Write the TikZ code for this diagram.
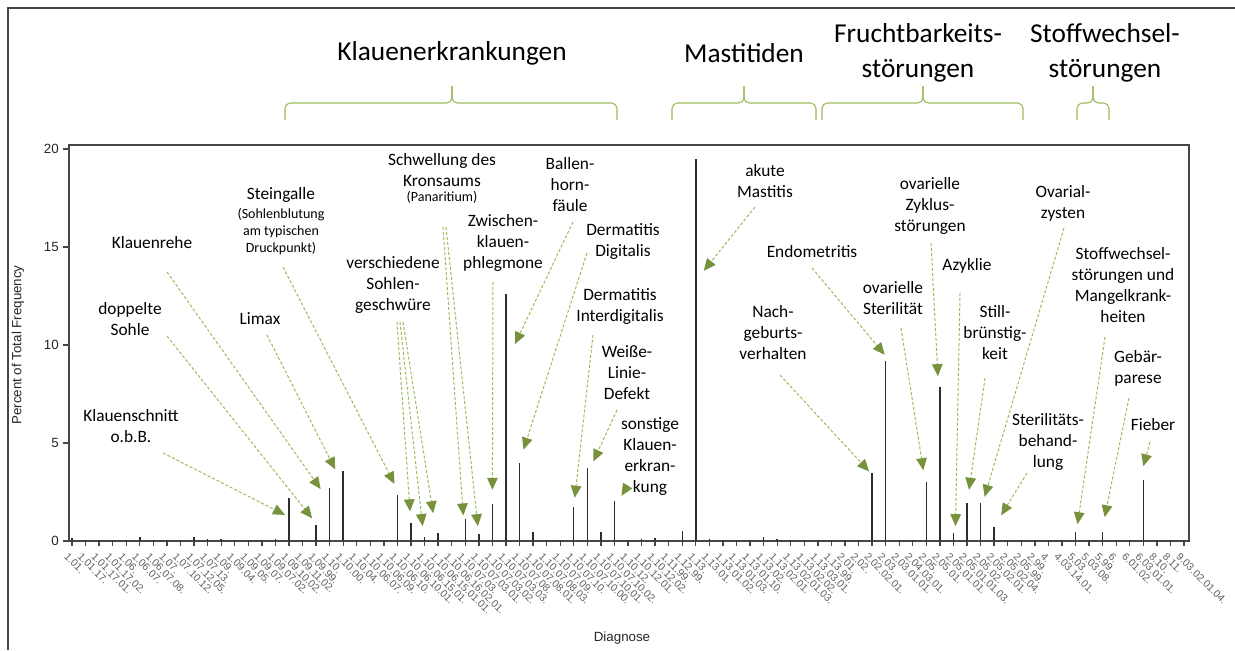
\documentclass[tikz,border=0pt]{standalone}
\usepackage{fontspec}
\setmainfont{Carlito}
\newfontfamily\arialfont{Liberation Sans}
\usetikzlibrary{arrows.meta, positioning, calc}

\definecolor{pfeilgruen}{RGB}{155,187,89}
\definecolor{spitzegruen}{RGB}{118,146,60}
\definecolor{balken}{RGB}{45,45,45}
\definecolor{achse}{RGB}{70,70,70}
\definecolor{ticktext}{RGB}{95,95,95}

\begin{document}
\begin{tikzpicture}[
        x=0.75pt, y=-0.75pt,
        every node/.style={inner sep=0pt},
        lab/.style={align=center, font=\fontsize{13}{15.75}\selectfont},
        sublab/.style={align=center, font=\fontsize{10.5}{12.75}\selectfont},
        titel/.style={align=center, font=\fontsize{20.5}{26}\selectfont},
        axlab/.style={font=\arialfont\fontsize{10}{12}\selectfont, text=black!85},
        ytick/.style={font=\arialfont\fontsize{10}{12}\selectfont, text=black!85},
        xtick/.style={font=\arialfont\fontsize{7.8}{9}\selectfont, text=ticktext, rotate=-45, anchor=west},
        callout/.style={draw=pfeilgruen, line width=0.75pt, dash pattern=on 2.25pt off 1.5pt,
            -{Triangle[length=9pt, width=8pt, color=spitzegruen, fill=spitzegruen]}},
        brace/.style={draw=pfeilgruen, line width=0.8pt, rounded corners=4pt},
        bar/.style={draw=balken, line width=1.1pt},
        frame/.style={draw=achse, line width=1pt}
    ]
        \useasboundingbox (0,0) rectangle (1235,650);

        % Rahmen
        \draw[frame, line width=1.2pt] (8,650) -- (8,8) -- (1235,8);
        \draw[frame] (69,145) rectangle (1189,541);

        % y-Achse
        \foreach \v in {0,5,...,20} {
            \draw[frame] (63,{541-19.6*\v}) -- (69,{541-19.6*\v});
            \node[ytick, anchor=east] at (59,{541-19.6*\v}) {\v};
        }
        \node[axlab, rotate=90] (ylabel) at (18,345) {Percent of Total Frequency};
        \node[axlab] (xlabel) at (622,638) {Diagnose};

        % Balken
        \foreach \code/\val [count=\i from 0] in {
            1.01./0.15, 1.01.17./0.05, 1.01.17.01./0.05, 1.01.17.02./0.05, 1.06./0.05,
            1.06.07./0.2, 1.06.07.08./0.05, 1.07./0.05, 1.07.10.12./0.05, 1.07.12.05./0.2,
            1.07.13./0.1, 1.09./0.1, 1.09.04./0.05, 1.09.05./0.05, 1.09.07./0.05,
            1.09.07.02./0.1, 1.09.10.02./2.2, 1.09.11.02./0.05, 1.09.99./0.8, 1.10./2.7,
            1.10.00./3.55, 1.10.04./0.05, 1.10.06.07./0.05, 1.10.06.09./0.05, 1.10.06.10./2.35,
            1.10.06.10.01./0.9, 1.10.06.15.01./0.2, 1.10.06.15.01.01./0.4, 1.10.06.16.02.01./0.05, 1.10.07.03./1.1,
            1.10.07.03.01./0.35, 1.10.07.03.02./1.9, 1.10.07.03.03./12.6, 1.10.07.08./4.0, 1.10.07.08.01./0.45,
            1.10.07.08.03./0.05, 1.10.07.09./0.05, 1.10.07.10./1.75, 1.10.07.10.00./3.7, 1.10.07.10.01./0.45,
            1.10.07.10.02./2.05, 1.10.12./0.05, 1.10.12.01./0.1, 1.10.12.02./0.15, 1.11.99./0.05,
            1.12.99./0.5, 1.13./19.5, 1.13.01./0.1, 1.13.01.02./0.05, 1.13.01.03./0.05,
            1.13.01.10./0.05, 1.13.02./0.2, 1.13.02.01./0.1, 1.13.02.01.03./0.05, 1.13.02.02./0.05,
            1.13.03.01./0.05, 1.13.99./0.05, 2.01./0.05, 2.02./0.05, 2.02.02.01./3.45,
            2.03./9.2, 2.03.01.01./0.05, 2.04.03.01./0.05, 2.05./3.0, 2.05.01./7.85,
            2.05.01.01./0.4, 2.05.01.01.03./1.95, 2.05.02./1.95, 2.05.02.01./0.7, 2.05.02.04./0.05,
            2.05.99./0.05, 2.99./0.05, 4./0.05, 4.03.14.01./0.05, 5.03./0.45,
            5.03.08./0.05, 5.99./0.45, 6./0.05, 6.01.02./0.05, 6.03.01.01./3.1,
            8.10./0.05, 8.11./0.05, 9.03.02.01.04./0.05} {
            \coordinate (b\i) at ({72+13.561*\i},{541-19.6*\val});
            \draw[bar] ({72+13.561*\i},541) -- (b\i);
            \draw[frame] ({72+13.561*\i},541) -- ++(0,5);
            \node[xtick] at ({72+13.561*\i-6},555) {\code};
        }

        % Gruppen
        \node[titel] (klauen) at (452,53) {Klauenerkrankungen};
        \node[titel] (mast) at (744,53) {Mastitiden};
        \node[titel] (frucht) at (918,53) {Fruchtbarkeits-\\störungen};
        \node[titel] (stoffgr) at (1105,53) {Stoffwechsel-\\störungen};
        \draw[brace] (285,120) -- (285,103) -- (452,103) -- (452,86);
        \draw[brace] (452,86) -- (452,103) -- (617,103) -- (617,120);
        \draw[brace] (672,120) -- (672,103) -- (744,103) -- (744,86);
        \draw[brace] (744,86) -- (744,103) -- (816,103) -- (816,120);
        \draw[brace] (822,120) -- (822,103) -- (923,103) -- (923,86);
        \draw[brace] (923,86) -- (923,103) -- (1023,103) -- (1023,120);
        \draw[brace] (1077,120) -- (1077,103) -- (1093,103) -- (1093,86);
        \draw[brace] (1093,86) -- (1093,103) -- (1109,103) -- (1109,120);

        % Diagnosen
        \node[lab] (kschnitt) at (131,426) {Klauenschnitt\\o.b.B.};
        \node[lab] (dsohle) at (130,319) {doppelte\\Sohle};
        \node[lab] (krehe) at (152,243) {Klauenrehe};
        \node[lab] (limax) at (260,319) {Limax};
        \node[lab] (steingalle) at (281,195) {Steingalle};
        \node[sublab, below=4pt of steingalle] (steinsub) {(Sohlenblutung\\am typischen\\Druckpunkt)};
        \node[lab] (sohlgeschw) at (393,285) {verschiedene\\Sohlen-\\geschwüre};
        \node[lab] (schwellung) at (442,170) {Schwellung des\\Kronsaums};
        \node[sublab, below=3pt of schwellung] (panaritium) {(Panaritium)};
        \node[lab] (zwischen) at (503,243) {Zwischen-\\klauen-\\phlegmone};
        \node[lab] (ballenhorn) at (570,185) {Ballen-\\horn-\\fäule};
        \node[lab] (derdig) at (623,241) {Dermatitis\\Digitalis};
        \node[lab] (derinter) at (620,306) {Dermatitis\\Interdigitalis};
        \node[lab] (weisse) at (627,373) {Weiße-\\Linie-\\Defekt};
        \node[lab] (sonstige) at (650,456) {sonstige\\Klauen-\\erkran-\\kung};
        \node[lab] (mastitis) at (765,181) {akute\\Mastitis};
        \node[lab] (endom) at (812,252) {Endometritis};
        \node[lab] (nachgeb) at (773,333) {Nach-\\geburts-\\verhalten};
        \node[lab] (ovster) at (893,298) {ovarielle\\Sterilität};
        \node[lab] (ovzyklus) at (930,206) {ovarielle\\Zyklus-\\störungen};
        \node[lab] (azyklie) at (967,266) {Azyklie};
        \node[lab] (stillbr) at (995,333) {Still-\\brünstig-\\keit};
        \node[lab] (sterbeh) at (1048,442) {Sterilitäts-\\behand-\\lung};
        \node[lab] (ovzysten) at (1063,203) {Ovarial-\\zysten};
        \node[lab] (stoffw) at (1123,285) {Stoffwechsel-\\störungen und\\Mangelkrank-\\heiten};
        \node[lab] (gebaer) at (1138,368) {Gebär-\\parese};
        \node[lab] (fieber) at (1153,425) {Fieber};

        % Pfeile
        \draw[callout] ($(kschnitt)+(32,27)$) -- ($(b16)+(-4,17)$);
        \draw[callout] ($(dsohle)+(37,17)$) -- ($(b18)+(-4,-7)$);
        \draw[callout] ($(krehe)+(15,29)$) -- ($(b19)+(-9,1)$);
        \draw[callout] ($(limax)+(7,16)$) -- ($(b20)+(-8,-2)$);
        \draw[callout] ($(steinsub.south)+(2,12)$) -- ($(b24)+(-3,-11)$);
        \draw[callout] ($(sohlgeschw)+(4,37)$) -- ($(b25)+(-1,-12)$);
        \draw[callout] ($(sohlgeschw)+(7,37)$) -- ($(b26)+(-2,-11)$);
        \draw[callout] ($(sohlgeschw)+(10,37)$) -- ($(b27)+(-5,-20)$);
        \draw[callout] ($(panaritium)+(1,30)$) -- ($(b29)+(-2,-4)$);
        \draw[callout] ($(panaritium)+(4,30)$) -- ($(b30)+(-1,-8)$);
        \draw[callout] ($(zwischen)+(-10,39)$) -- ($(b31)+(0,-14)$);
        \draw[callout] ($(ballenhorn)+(3,37)$) -- ($(b32)+(9,50)$);
        \draw[callout] ($(derdig)+(-36,12)$) -- ($(b33)+(4,-13)$);
        \draw[callout] ($(derinter)+(-27,29)$) -- ($(b37)+(1,-9)$);
        \draw[callout] ($(weisse)+(-10,37)$) -- ($(b38)+(6,-7)$);
        \draw[callout] ($(sonstige)+(-22,29)$) -- ($(b40)+(7,-5)$);
        \draw[callout] ($(mastitis)+(-10,26)$) -- ($(b46)+(8,112)$);
        \draw[callout] ($(endom)+(0,16)$) -- ($(b60)+(-1,-6)$);
        \draw[callout] ($(nachgeb)+(7,42)$) -- ($(b59)+(-3,-2)$);
        \draw[callout] ($(ovster)+(8,30)$) -- ($(b63)+(-3,-12)$);
        \draw[callout] ($(ovzyklus)+(1,37)$) -- ($(b64)+(-2,-11)$);
        \draw[callout] ($(azyklie)+(-7,27)$) -- ($(b65)+(2,-7)$);
        \draw[callout] ($(stillbr)+(-10,45)$) -- ($(b66)+(2,-13)$);
        \draw[callout] ($(sterbeh)+(-21,31)$) -- ($(b68)+(7,-12)$);
        \draw[callout] ($(ovzysten)+(1,25)$) -- ($(b67)+(4,-6)$);
        \draw[callout] ($(stoffw)+(-18,52)$) -- ($(b74)+(2,-8)$);
        \draw[callout] ($(gebaer)+(-9,30)$) -- ($(b76)+(2,-15)$);
        \draw[callout] ($(fieber)+(-3,17)$) -- ($(b79)+(0,-14)$);
    \end{tikzpicture}
\end{document}
